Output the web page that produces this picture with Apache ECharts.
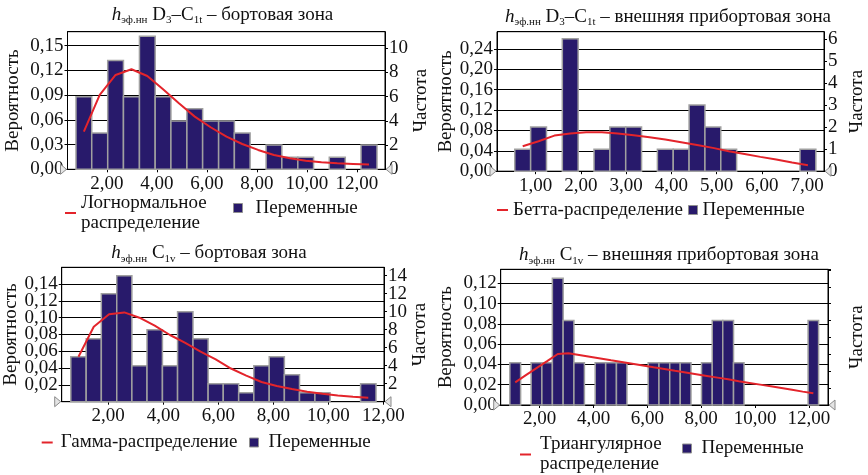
<!DOCTYPE html>
<html><head><meta charset="utf-8">
<script src="https://cdn.jsdelivr.net/npm/echarts@6/dist/echarts.min.js"></script>
<style>html,body{margin:0;padding:0;background:#fff}#c{width:868px;height:475px}</style>
</head><body><div id="c"></div>
<script>
// ---------- DATA ----------
// Panel 1: h эф.нн D3–C1t – бортовая зона
const p1Edges = [0.76,1.39,2.03,2.66,3.30,3.93,4.56,5.20,5.83,6.47,7.10,7.73,8.37,9.00,9.64,10.27,10.90,11.54,12.17,12.81];
const p1Counts = [6,3,9,6,11,6,4,5,4,4,3,0,2,1,1,0,1,0,2];
const p1Prob = [0.0457,0.0902,0.1144,0.1213,0.1132,0.0970,0.0801,0.0639,0.0510,0.0396,0.0307,0.0235,0.0174,0.0134,0.0105,0.0085,0.0073,0.0065,0.0057];
const p1XTicks = [2,4,6,8,10,12];

// Panel 2: h эф.нн D3–C1t – внешняя прибортовая зона
const p2Edges = [0.54,0.89,1.24,1.59,1.94,2.29,2.64,2.99,3.34,3.69,4.04,4.39,4.74,5.09,5.44,5.79,6.14,6.49,6.84,7.19];
const p2Counts = [1,2,0,6,0,1,2,2,0,1,1,3,2,1,0,0,0,0,1];
const p2Prob = [0.0489,0.0587,0.0698,0.0737,0.0763,0.0763,0.0737,0.0705,0.0666,0.0620,0.0568,0.0515,0.0457,0.0392,0.0339,0.0281,0.0228,0.0170,0.0117];
const p2XTicks = [1,2,3,4,5,6,7];

// Panel 3: h эф.нн C1v – бортовая зона
const p3Edges = [0.64,1.20,1.75,2.31,2.86,3.41,3.97,4.52,5.08,5.63,6.18,6.74,7.29,7.85,8.40,8.95,9.51,10.06,10.62,11.17,11.73];
const p3Counts = [5,7,12,14,4,8,4,10,7,2,2,1,4,5,3,1,1,0,0,2];
const p3Prob = [0.0536,0.0893,0.1040,0.1063,0.1000,0.0905,0.0794,0.0700,0.0595,0.0504,0.0395,0.0310,0.0235,0.0187,0.0151,0.0119,0.0095,0.0075,0.0060,0.0048];
const p3XTicks = [2,4,6,8,10,12];

// Panel 4: h эф.нн C1v – внешняя прибортовая зона
const p4Edges = [0.89,1.29,1.68,2.08,2.47,2.87,3.27,3.66,4.06,4.45,4.85,5.24,5.64,6.03,6.43,6.83,7.22,7.62,8.01,8.41,8.80,9.20,9.59,9.99,10.39,10.78,11.18,11.57,11.97,12.36];
const p4Counts = [1,0,1,1,3,2,1,0,1,1,1,0,0,1,1,1,1,0,1,2,2,1,0,0,0,0,0,0,2];
const p4Prob = [0.0224,0.0294,0.0364,0.0433,0.0503,0.0510,0.0493,0.0476,0.0459,0.0441,0.0424,0.0407,0.0390,0.0373,0.0356,0.0338,0.0321,0.0304,0.0287,0.0270,0.0253,0.0235,0.0218,0.0201,0.0184,0.0167,0.0150,0.0132,0.0115];
const p4XTicks = [2,4,6,8,10,12];

const lineNames = ['Логнормальное\nраспределение','Бетта-распределение','Гамма-распределение','Триангулярное\nраспределение'];
const barName = 'Переменные';
const titleRich = [
  '{i|h}{s|эф.нн}{n| D}{s|3}{n|–C}{s|1t}{n| – бортовая зона}',
  '{i|h}{s|эф.нн}{n| D}{s|3}{n|–C}{s|1t}{n| – внешняя прибортовая зона}',
  '{i|h}{s|эф.нн}{n| C}{s|1v}{n| – бортовая зона}',
  '{i|h}{s|эф.нн}{n| C}{s|1v}{n| – внешняя прибортовая зона}'
];
const yLeftName = 'Вероятность';
const yRightName = 'Частота';

// ---------- LAYOUT / STYLE ----------
const FONT = '"Liberation Serif","Times New Roman",serif';
const FS = 19;
const BAR = '#281a6b';
const RED = '#e3242b';

const panels = [
  {edges:p1Edges, counts:p1Counts, prob:p1Prob, xt:p1XTicks,
   grid:{left:67.5, top:31.7, width:317.5, height:137.6}, xmin:0.42, xmax:13.13,
   lmax:0.1669, lint:0.03, rmax:11.37, rint:2, rLabels:true, lGap:45, rGap:22,
   title:[222.5,15], legA:{left:65, top:193, pad:0}, legB:{left:233, top:198, pad:8}},
  {edges:p2Edges, counts:p2Counts, prob:p2Prob, xt:p2XTicks,
   grid:{left:497, top:31.7, width:330, height:139.5}, xmin:0.147, xmax:7.37,
   lmax:0.2735, lint:0.04, rmax:6.32, rint:1, rLabels:true, lGap:40, rGap:24,
   title:[668,16.7], legA:{left:497, top:200, pad:0}, legB:{left:688, top:200, pad:0}},
  {edges:p3Edges, counts:p3Counts, prob:p3Prob, xt:p3XTicks,
   grid:{left:61.7, top:267.3, width:322.3, height:134.4}, xmin:0.31, xmax:12.02,
   lmax:0.16, lint:0.02, rmax:14.93, rint:2, rLabels:true, lGap:37, rGap:21,
   title:[209,253.3], legA:{left:41.7, top:432.5, pad:3}, legB:{left:249, top:432.5, pad:5}},
  {edges:p4Edges, counts:p4Counts, prob:p4Prob, xt:p4XTicks,
   grid:{left:500.7, top:269.3, width:329.3, height:135.7}, xmin:0.55, xmax:12.71,
   lmax:0.1339, lint:0.02, rmax:3.2136, rint:0.4, rLabels:false, lGap:45, rGap:20,
   title:[669,255.3], legA:{left:520, top:434.5, pad:4}, legB:{left:682, top:438.5, pad:5}}
];

const fmt2 = v => v.toFixed(2).replace('.', ',');
const txt = {fontFamily:FONT, fontSize:FS, color:'#111'};

const grids = [], xAxes = [], yAxes = [], series = [], legends = [], graphics = [];

function renderBars(params, api) {
  const c = api.value(2);
  if (!c) return null;
  const p0 = api.coord([api.value(0), 0]);
  const p1 = api.coord([api.value(1), c]);
  return {type:'rect', shape:{x:p0[0], y:p1[1], width:p1[0]-p0[0], height:p0[1]-p1[1]},
          style:{fill:BAR, stroke:'#a0a0a0', lineWidth:1.5}};
}

panels.forEach((p, i) => {
  grids.push(Object.assign({show:true, borderColor:'#000', borderWidth:1, backgroundColor:'#fff'}, p.grid));
  xAxes.push({type:'value', gridIndex:i, min:p.xmin, max:p.xmax,
    axisLine:{show:true, onZero:false, lineStyle:{color:'#000', width:1}},
    axisTick:{show:true, customValues:p.xt, length:3, lineStyle:{color:'#000'}},
    axisLabel:Object.assign({customValues:p.xt, formatter:fmt2, margin:5}, txt),
    splitLine:{show:false}});
  yAxes.push({type:'value', gridIndex:i, position:'left', min:0, max:p.lmax, interval:p.lint,
    axisLine:{show:true, lineStyle:{color:'#000', width:1}},
    axisTick:{show:true, length:3, lineStyle:{color:'#000'}},
    axisLabel:Object.assign({formatter:fmt2, margin:4, showMaxLabel:false}, txt),
    splitLine:{show:true, lineStyle:{color:'#000', width:1}},
    name:yLeftName, nameLocation:'middle', nameRotate:90, nameGap:p.lGap,
    nameTextStyle:{fontFamily:FONT, fontSize:FS, color:'#111'}});
  yAxes.push({type:'value', gridIndex:i, position:'right', min:0, max:p.rmax, interval:p.rint,
    axisLine:{show:true, lineStyle:{color:'#000', width:1}},
    axisTick:{show:true, length:3, lineStyle:{color:'#000'}},
    axisLabel:Object.assign({show:p.rLabels, margin:4, showMaxLabel:false}, txt),
    splitLine:{show:false},
    name:yRightName, nameLocation:'middle', nameRotate:90, nameGap:p.rGap,
    nameTextStyle:{fontFamily:FONT, fontSize:FS, color:'#111'}});
  const barData = p.counts.map((c, k) => [p.edges[k], p.edges[k+1], c]);
  const lineData = p.prob.map((v, k) => [(p.edges[k] + p.edges[k+1]) / 2, v]);
  series.push({type:'custom', name:barName, xAxisIndex:i, yAxisIndex:2*i+1,
    renderItem:renderBars, encode:{x:[0,1], y:2}, data:barData, itemStyle:{color:BAR}, z:2, silent:true});
  series.push({type:'line', name:lineNames[i], xAxisIndex:i, yAxisIndex:2*i, data:lineData,
    symbol:'none', lineStyle:{color:RED, width:2}, itemStyle:{color:RED}, z:3, silent:true});
  legends.push({data:[lineNames[i]], left:p.legA.left, top:p.legA.top, padding:0,
    icon:'rect', itemWidth:11, itemHeight:2, selectedMode:false,
    itemStyle:{color:RED, borderWidth:0},
    textStyle:{fontFamily:FONT, fontSize:FS, color:'#111', lineHeight:20, padding:[0,0,0,p.legA.pad]}});
  legends.push({data:[barName], left:p.legB.left, top:p.legB.top, padding:0,
    icon:'rect', itemWidth:9, itemHeight:9, selectedMode:false,
    itemStyle:{color:BAR, borderColor:'#909090', borderWidth:1},
    textStyle:{fontFamily:FONT, fontSize:FS, color:'#111', lineHeight:20, padding:[0,0,0,p.legB.pad]}});
  graphics.push({type:'text', x:p.title[0], y:p.title[1], silent:true,
    style:{text:titleRich[i], align:'center', verticalAlign:'middle', fill:'#111',
      font:FS + 'px ' + FONT,
      rich:{
        n:{fontFamily:FONT, fontSize:FS, lineHeight:22, verticalAlign:'middle', fill:'#111'},
        i:{fontFamily:FONT, fontSize:FS, fontStyle:'italic', lineHeight:22, verticalAlign:'middle', fill:'#111'},
        s:{fontFamily:FONT, fontSize:11, lineHeight:12, verticalAlign:'bottom', fill:'#111'}
      }}});
});

const chart = echarts.init(document.getElementById('c'), null, {renderer:'canvas'});
chart.setOption({animation:false, backgroundColor:'#fff', grid:grids, xAxis:xAxes, yAxis:yAxes,
  series:series, legend:legends, graphic:graphics});

// axis-end triangle markers at zero level (positions from the library's scales)
const tri = [];
panels.forEach((p, i) => {
  const a = chart.convertToPixel({gridIndex:i}, [p.xmin, 0]);
  const b = chart.convertToPixel({gridIndex:i}, [p.xmax, 0]);
  tri.push({type:'polygon', silent:true, z:10, shape:{points:[[a[0]-1,a[1]],[a[0]-7,a[1]-5],[a[0]-7,a[1]+5]]},
    style:{fill:'#e4e4e4', stroke:'#8a8a8a', lineWidth:1}});
  tri.push({type:'polygon', silent:true, z:10, shape:{points:[[b[0]+1,b[1]],[b[0]+7,b[1]-5],[b[0]+7,b[1]+5]]},
    style:{fill:'#e4e4e4', stroke:'#8a8a8a', lineWidth:1}});
});
chart.setOption({graphic:graphics.concat(tri)});
</script></body></html>
